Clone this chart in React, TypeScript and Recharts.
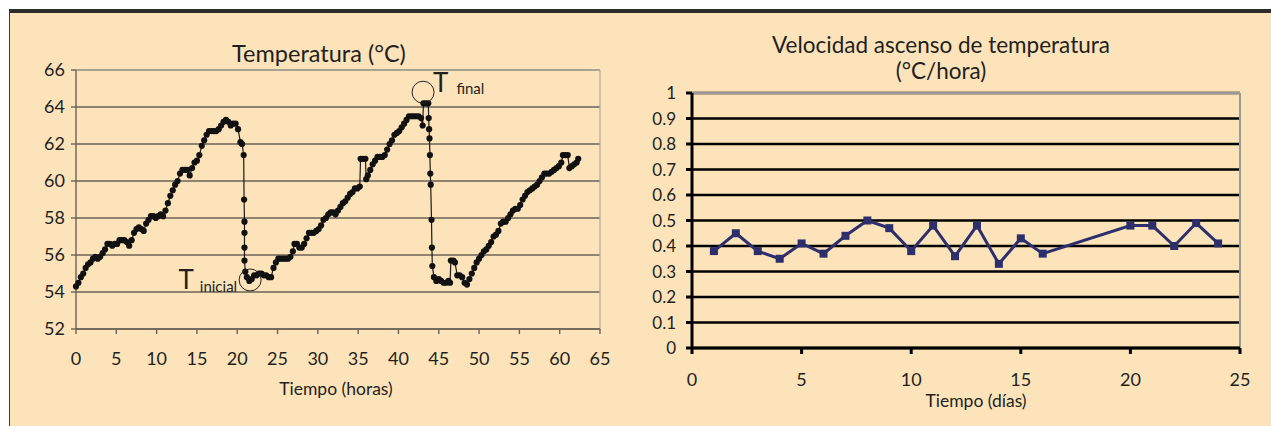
import { CartesianGrid, Line, LineChart, ReferenceDot, ReferenceLine, XAxis, YAxis } from "recharts";

const FONT = "Lato, 'Open Sans', sans-serif";
const INK = "#231f20";
const CREAM = "#fce3ba";

// temperature log, [hours, °C] — one list per heating cycle
const cycleOne: [number, number][] = [
  [0, 54.3], [0.3, 54.5], [0.6, 54.8], [0.9, 55.0], [1.2, 55.3], [1.5, 55.5], [1.8, 55.6], [2.1, 55.8],
  [2.4, 55.9], [2.7, 55.8], [3.0, 55.9], [3.3, 56.1], [3.6, 56.3], [3.9, 56.6], [4.2, 56.6], [4.5, 56.5],
  [4.8, 56.6], [5.1, 56.6], [5.4, 56.8], [5.7, 56.8], [6.0, 56.8], [6.3, 56.7], [6.6, 56.5], [6.9, 56.8],
  [7.2, 57.2], [7.5, 57.4], [7.8, 57.5], [8.1, 57.4], [8.4, 57.3], [8.7, 57.7], [9.0, 57.9], [9.3, 58.1],
  [9.6, 58.1], [9.9, 58.0], [10.2, 58.1], [10.5, 58.2], [10.8, 58.1], [11.1, 58.4], [11.4, 58.8], [11.7, 59.2],
  [12.0, 59.5], [12.3, 59.8], [12.6, 60.0], [12.9, 60.4], [13.2, 60.6], [13.5, 60.6], [13.8, 60.6], [14.1, 60.3],
  [14.4, 60.7], [14.7, 61.0], [15.0, 61.1], [15.3, 61.4], [15.6, 61.9], [15.9, 62.2], [16.2, 62.5], [16.5, 62.7],
  [16.8, 62.7], [17.1, 62.7], [17.4, 62.7], [17.7, 62.8], [18.0, 63.0], [18.3, 63.2], [18.6, 63.3], [18.9, 63.2],
  [19.2, 63.0], [19.5, 63.1], [19.8, 63.1], [20.1, 62.8], [20.4, 62.1], [20.6, 62.0], [20.8, 61.4], [20.85, 59.0],
  [20.9, 57.8], [20.9, 57.2], [20.9, 56.4], [20.9, 55.7], [21.0, 55.1],
];

const cycleTwo: [number, number][] = [
  [21.2, 54.8], [21.5, 54.6], [21.8, 54.7], [22.1, 54.9], [22.4, 54.9], [22.7, 55.0], [23.0, 55.0], [23.3, 54.9],
  [23.6, 54.9], [23.9, 54.8], [24.2, 54.8], [24.5, 55.3], [24.8, 55.6], [25.1, 55.8], [25.4, 55.8], [25.7, 55.8],
  [26.0, 55.8], [26.3, 55.8], [26.6, 55.9], [26.9, 56.2], [27.1, 56.6], [27.4, 56.6], [27.7, 56.4], [28.0, 56.4],
  [28.3, 56.6], [28.6, 56.9], [28.9, 57.2], [29.2, 57.2], [29.5, 57.2], [29.8, 57.3], [30.1, 57.4], [30.4, 57.6],
  [30.7, 57.9], [31.0, 58.0], [31.3, 58.2], [31.6, 58.3], [31.9, 58.3], [32.2, 58.2], [32.5, 58.4], [32.8, 58.6],
  [33.1, 58.8], [33.4, 58.9], [33.7, 59.1], [34.0, 59.3], [34.3, 59.4], [34.6, 59.6], [34.9, 59.6], [35.2, 59.7],
  [35.3, 61.2], [35.6, 61.2], [35.9, 61.2], [36.0, 60.1], [36.2, 60.3], [36.5, 60.6], [36.8, 60.9], [37.1, 61.1],
  [37.4, 61.3], [37.7, 61.3], [38.0, 61.3], [38.3, 61.4], [38.6, 61.7], [38.9, 62.0], [39.2, 62.2], [39.5, 62.5],
  [39.8, 62.6], [40.1, 62.7], [40.4, 62.9], [40.7, 63.1], [41.0, 63.3], [41.3, 63.5], [41.6, 63.5], [41.9, 63.5],
  [42.2, 63.5], [42.5, 63.5], [42.8, 63.4], [43.0, 63.0], [43.1, 64.2], [43.4, 64.2], [43.7, 64.2], [43.75, 63.4],
  [43.8, 62.8], [43.85, 62.3], [43.9, 61.4], [43.95, 60.4], [44.0, 59.8], [44.1, 57.9], [44.15, 56.4], [44.2, 55.4],
  [44.4, 54.8],
];

const cycleThree: [number, number][] = [
  [44.7, 54.6], [45.0, 54.7], [45.3, 54.6], [45.6, 54.5], [45.9, 54.5], [46.2, 54.6], [46.4, 54.5], [46.5, 55.7],
  [46.8, 55.7], [47.0, 55.6], [47.3, 54.9], [47.6, 54.9], [47.9, 54.8], [48.2, 54.5], [48.5, 54.4], [48.8, 54.7],
  [49.1, 55.0], [49.4, 55.3], [49.7, 55.6], [50.0, 55.8], [50.3, 56.0], [50.6, 56.2], [50.9, 56.3], [51.2, 56.5],
  [51.5, 56.7], [51.8, 57.0], [52.1, 57.1], [52.4, 57.3], [52.7, 57.7], [53.0, 57.8], [53.3, 57.8], [53.6, 58.0],
  [53.9, 58.2], [54.2, 58.4], [54.5, 58.5], [54.8, 58.5], [55.1, 58.7], [55.4, 59.0], [55.7, 59.2], [56.0, 59.4],
  [56.3, 59.5], [56.6, 59.6], [56.9, 59.7], [57.2, 59.8], [57.5, 60.0], [57.8, 60.2], [58.1, 60.4], [58.4, 60.4],
  [58.7, 60.4], [59.0, 60.5], [59.3, 60.6], [59.6, 60.7], [59.9, 60.8], [60.2, 61.0], [60.4, 61.4], [60.7, 61.4],
  [61.0, 61.4], [61.2, 60.7], [61.5, 60.8], [61.8, 60.9], [62.1, 61.0], [62.3, 61.2],
];

const tempTicks = [52, 54, 56, 58, 60, 62, 64, 66];
const hourTicks = [0, 5, 10, 15, 20, 25, 30, 35, 40, 45, 50, 55, 60, 65];

// daily heating rate, °C/hora (no readings on days 17-19)
const rateDays = [1, 2, 3, 4, 5, 6, 7, 8, 9, 10, 11, 12, 13, 14, 15, 16, 20, 21, 22, 23, 24];
const rateValues = [0.38, 0.45, 0.38, 0.35, 0.41, 0.37, 0.44, 0.5, 0.47, 0.38, 0.48, 0.36, 0.48, 0.33, 0.43, 0.37, 0.48, 0.48, 0.4, 0.49, 0.41];
const rateTicks = [0, 0.1, 0.2, 0.3, 0.4, 0.5, 0.6, 0.7, 0.8, 0.9, 1];
const dayTicks = [0, 5, 10, 15, 20, 25];

const tempData = [...cycleOne, ...cycleTwo, ...cycleThree].map(([h, t]) => ({ h, t }));
const rateData = rateDays.map((d, i) => ({ d, v: rateValues[i] }));

const AXIS = "#6b6357";
const FRAME = "#b5ab9c";
const NAVY = "#2d2f6c";

function noteInicial({ viewBox }: any) {
  const cx = viewBox.x + viewBox.width / 2;
  const cy = viewBox.y + viewBox.height / 2;
  return (
    <text x={cx - 13} y={cy + 9} textAnchor="end" fill={INK} fontFamily={FONT}>
      <tspan fontSize={26}>T</tspan>
      <tspan fontSize={15} dx={6} dy={3}>inicial</tspan>
    </text>
  );
}

function noteFinal({ viewBox }: any) {
  const cx = viewBox.x + viewBox.width / 2;
  const cy = viewBox.y + viewBox.height / 2;
  return (
    <text x={cx + 10} y={cy} fill={INK} fontFamily={FONT}>
      <tspan fontSize={26}>T</tspan>
      <tspan fontSize={15} dx={8} dy={2}>final</tspan>
    </text>
  );
}

function TemperatureChart() {
  return (
    <LineChart
      width={640}
      height={426}
      data={tempData}
      margin={{ top: 70, right: 40, bottom: 57, left: 16 }}
      style={{ position: "absolute", left: 0, top: 0 }}
    >
      <CartesianGrid vertical={false} stroke={AXIS} strokeWidth={1.4} />
      <ReferenceLine y={66} stroke={FRAME} strokeWidth={1.3} />
      <ReferenceLine x={65} stroke={FRAME} strokeWidth={1.3} />
      <XAxis
        type="number"
        dataKey="h"
        domain={[0, 65]}
        ticks={hourTicks}
        interval={0}
        height={40}
        stroke={AXIS}
        strokeWidth={1.4}
        tickSize={5}
        tickMargin={18}
        tick={{ fill: INK, fontSize: 18, fontFamily: FONT }}
      />
      <YAxis
        type="number"
        domain={[52, 66]}
        ticks={tempTicks}
        interval={0}
        width={60}
        stroke={AXIS}
        strokeWidth={1.4}
        tickSize={5}
        tickMargin={6}
        tick={{ fill: INK, fontSize: 18, fontFamily: FONT }}
      />
      <Line
        dataKey="t"
        type="linear"
        stroke="#1a1a1a"
        strokeWidth={1.2}
        dot={{ r: 3.1, fill: "#111", stroke: "none" }}
        isAnimationActive={false}
      />
      <ReferenceDot x={21.6} y={54.65} r={11} fill="none" stroke="#222" strokeWidth={1} label={{ content: noteInicial }} />
      <ReferenceDot x={43.05} y={64.8} r={11} fill="none" stroke="#222" strokeWidth={1} label={{ content: noteFinal }} />
    </LineChart>
  );
}

function RateChart() {
  return (
    <LineChart
      width={641}
      height={426}
      data={rateData}
      margin={{ top: 93, right: 31, bottom: 38, left: 12 }}
      style={{ position: "absolute", left: 630, top: 0 }}
    >
      <CartesianGrid vertical={false} stroke="#000" strokeWidth={2.6} />
      <ReferenceLine y={1} stroke="#9a9a9a" strokeWidth={2} />
      <ReferenceLine x={25} stroke="#9a9a9a" strokeWidth={2} />
      <XAxis
        type="number"
        dataKey="d"
        domain={[0, 25]}
        ticks={dayTicks}
        interval={0}
        height={40}
        stroke="#000"
        strokeWidth={3}
        tickSize={6}
        tickMargin={19}
        tick={{ fill: INK, fontSize: 18, fontFamily: FONT }}
      />
      <YAxis
        type="number"
        domain={[0, 1]}
        ticks={rateTicks}
        interval={0}
        width={50}
        stroke="#000"
        strokeWidth={3}
        tickSize={6}
        tickMargin={10}
        tickFormatter={(v) => String(Number(v.toFixed(1)))}
        tick={{ fill: INK, fontSize: 17, fontFamily: FONT }}
      />
      <Line
        dataKey="v"
        type="linear"
        stroke={NAVY}
        strokeWidth={3}
        dot={(p: any) => <rect key={p.index} x={p.cx - 4} y={p.cy - 4} width={8} height={8} fill={NAVY} />}
        isAnimationActive={false}
      />
    </LineChart>
  );
}

export default function App() {
  return (
    <div style={{ position: "absolute", left: 0, top: 0, width: 1271, height: 426, background: "#fff", overflow: "hidden" }}>
      <div
        style={{
          position: "absolute",
          left: 9,
          top: 9,
          right: 0,
          bottom: 0,
          background: CREAM,
          borderTop: "4px solid #2b2b2b",
          borderLeft: "1.5px solid #3a3a3a",
        }}
      />
      <TemperatureChart />
      <RateChart />
      <svg width={1271} height={426} style={{ position: "absolute", left: 0, top: 0, pointerEvents: "none" }} fontFamily={FONT} fill={INK}>
        <text x={319} y={62} textAnchor="middle" fontSize={23.5}>Temperatura (°C)</text>
        <text x={336} y={395} textAnchor="middle" fontSize={17.5}>Tiempo (horas)</text>
        <text x={941} y={53} textAnchor="middle" fontSize={22.5}>Velocidad ascenso de temperatura</text>
        <text x={941} y={79} textAnchor="middle" fontSize={22.5}>(°C/hora)</text>
        <text x={976} y={407} textAnchor="middle" fontSize={17.5}>Tiempo (días)</text>
      </svg>
    </div>
  );
}
